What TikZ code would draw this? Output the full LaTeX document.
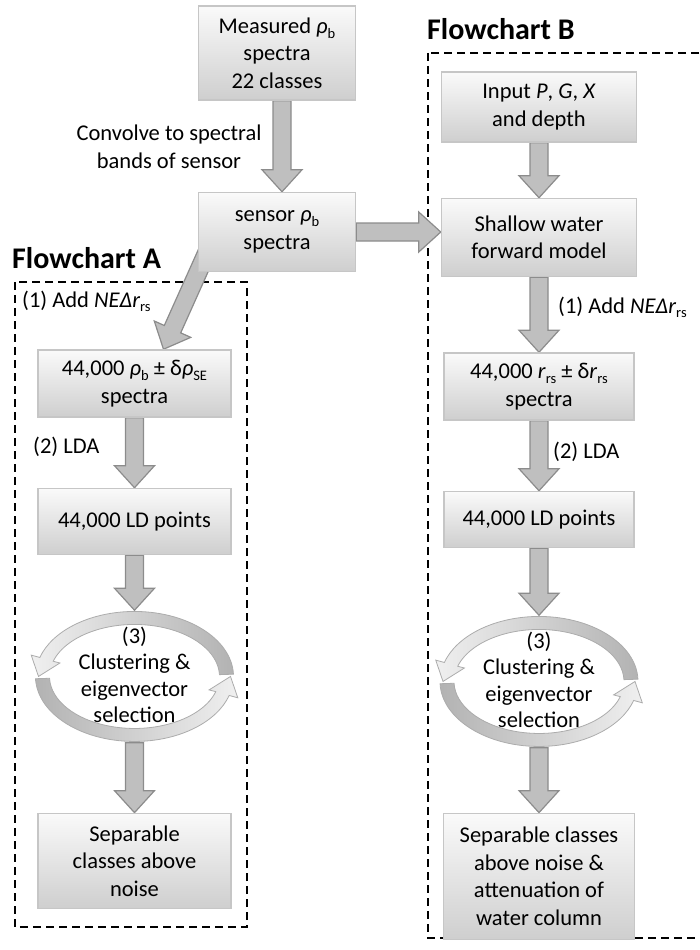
\documentclass[tikz,border=0pt]{standalone}
\usepackage{fontspec}
\setmainfont{Carlito}
\usepackage{tikz}
\usetikzlibrary{positioning,calc,backgrounds}

\newcommand{\lowidx}[1]{\raisebox{-0.22em}{\fontsize{14.5pt}{14.5pt}\selectfont #1}}
\newcommand{\rhob}{\textit{ρ}\lowidx{b}}

\begin{document}
\begin{tikzpicture}[
  x=1pt, y=1pt,
  font=\fontsize{22.5pt}{27.5pt}\selectfont,
  block/.style={rectangle, draw=gray!45, line width=1.5pt, top color=gray!4, bottom color=gray!38, align=center, inner sep=2pt},
  cyc/.style={rectangle, minimum width=198pt, minimum height=132pt, inner sep=0pt, align=center,
    font=\fontsize{22.5pt}{26.5pt}\selectfont},
  heading/.style={font=\fontsize{30pt}{36pt}\selectfont\bfseries, anchor=base west, inner sep=0pt},
  note/.style={anchor=base west, inner sep=0pt},
  groupframe/.style={dash pattern=on 8pt off 5pt, line width=2.5pt},
  cyclearc/.style={draw=gray!65, line width=0.8pt},
  fatarrow/.style={draw=gray!90, line width=1.2pt, fill=gray!50, line join=miter,
    to path={($(\tikztostart)!9pt!90:(\tikztotarget)$)
      -- ($(\tikztotarget)!22pt!(\tikztostart)!9pt!90:(\tikztotarget)$)
      -- ($(\tikztotarget)!22pt!(\tikztostart)!20pt!90:(\tikztotarget)$)
      -- (\tikztotarget)
      -- ($(\tikztotarget)!22pt!(\tikztostart)!20pt!-90:(\tikztotarget)$)
      -- ($(\tikztotarget)!22pt!(\tikztostart)!9pt!-90:(\tikztotarget)$)
      -- ($(\tikztostart)!9pt!-90:(\tikztotarget)$) -- cycle}},
]
  \useasboundingbox (0,0) rectangle (699,-950);

  % shared part
  \node[block, minimum width=157pt, minimum height=94pt] (measured) at (277,-53) {Measured \rhob\\spectra\\22 classes};
  \node[block, minimum width=157pt, minimum height=79pt, below=91pt of measured] (sensor) {sensor \rhob\\spectra};
  \node[align=center] (convolve) at (169,-147) {Convolve to spectral\\bands of sensor};

  % flowchart A
  \node[heading] (labA) at (12,-268) {Flowchart A};
  \node[note] (addA) at (22,-307) {(1) Add \textit{NEΔr}\lowidx{rs}};
  \node[block, minimum width=193pt, minimum height=67pt] (specA) at (134.5,-383.5) {44,000 \rhob{} ± δ\textit{ρ}\lowidx{SE}\\spectra};
  \node[note] (ldaA) at (33,-453) {(2) LDA};
  \node[block, minimum width=193pt, minimum height=66pt, below=70pt of specA] (ldA) {44,000 LD points};
  \node[cyc, below=55pt of ldA] (cycA) {(3)\\Clustering \&\\eigenvector\\selection\vphantom{g}};
  \node[block, minimum width=193pt, minimum height=95pt, below=70pt of cycA] (sepA) {Separable\\classes above\\noise};

  % flowchart B
  \node[heading] (labB) at (427,-40) {Flowchart B};
  \node[block, minimum width=195pt, minimum height=70pt] (inputB) at (539,-107) {Input \textit{P}, \textit{G}, \textit{X}\\and depth};
  \node[block, minimum width=195pt, minimum height=78pt, below=55pt of inputB] (modelB) {Shallow water\\forward model};
  \node[note] (addB) at (558,-313) {(1) Add \textit{NEΔr}\lowidx{rs}};
  \node[block, minimum width=190pt, minimum height=67pt, below=75pt of modelB] (specB) {44,000 \textit{r}\lowidx{rs} ± δ\textit{r}\lowidx{rs}\\spectra};
  \node[note] (ldaB) at (553,-458) {(2) LDA};
  \node[block, minimum width=190pt, minimum height=56pt, below=70pt of specB] (ldB) {44,000 LD points};
  \node[cyc, below=67pt of ldB] (cycB) {(3)\\Clustering \&\\eigenvector\\selection\vphantom{g}};
  \node[block, minimum width=191pt, minimum height=126pt, below=65pt of cycB] (sepB) {Separable classes\\above noise \&\\attenuation of\\water column};

  \coordinate (modelIn) at (sensor.east -| modelB.west);

  \begin{scope}[on background layer]
    \draw[groupframe] (15,-282) rectangle (247,-927);
    \draw[groupframe] (428,-53) rectangle (712,-938);

    \draw[fatarrow] ([xshift=5pt]measured.south) to ([xshift=5pt]sensor.north);
    \draw[fatarrow] ([shift={(-70,20)}]sensor.south) to ([xshift=29pt]specA.north);
    \draw[fatarrow] (sensor.east) to (modelIn);

    \draw[fatarrow] (specA.south) to (ldA.north);
    \draw[fatarrow] (ldA.south) to (cycA.north);
    \draw[fatarrow] (cycA.south) to (sepA.north);

    \draw[fatarrow] (inputB.south) to (modelB.north);
    \draw[fatarrow] (modelB.south) to (specB.north);
    \draw[fatarrow] (specB.south) to (ldB.north);
    \draw[fatarrow] (ldB.south) to (cycB.north);
    \draw[fatarrow] (cycB.south) to (sepB.north);
  \end{scope}

  % circular arrows round step (3)
  \foreach \c in {cycA,cycB} {
    \begin{scope}[shift={(\c.center)}]
      \draw[cyclearc, left color=gray!12, right color=gray!60]
        (2:99pt and 65pt) arc[start angle=2, end angle=163, x radius=99pt, y radius=65pt]
        -- (163:108pt and 73pt) -- (180:96pt and 61pt) -- (163:78pt and 46pt)
        -- (163:85pt and 52pt) arc[start angle=163, end angle=2, x radius=85pt, y radius=52pt] -- cycle;
      \draw[cyclearc, left color=gray!60, right color=gray!12]
        (182:99pt and 65pt) arc[start angle=182, end angle=343, x radius=99pt, y radius=65pt]
        -- (343:108pt and 73pt) -- (360:96pt and 61pt) -- (343:78pt and 46pt)
        -- (343:85pt and 52pt) arc[start angle=343, end angle=182, x radius=85pt, y radius=52pt] -- cycle;
    \end{scope}
  }
\end{tikzpicture}
\end{document}
